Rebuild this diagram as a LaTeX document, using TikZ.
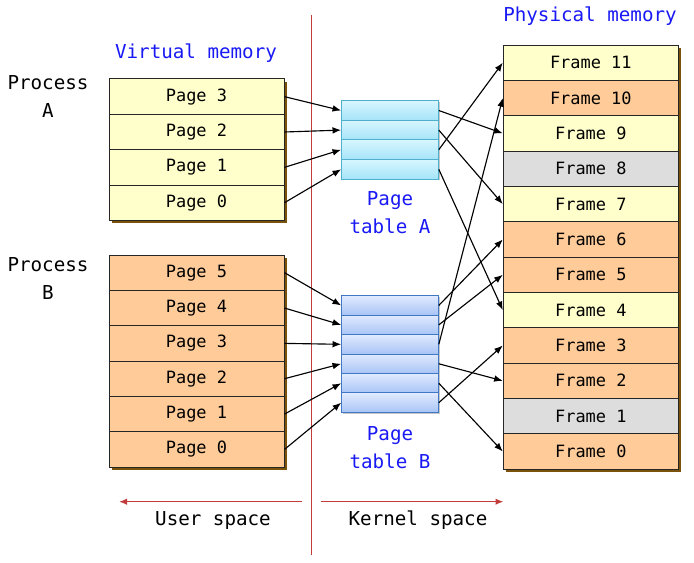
\documentclass[tikz,border=0pt]{standalone}
\usepackage{fontspec}
\setmonofont{DejaVu Sans Mono}
\usetikzlibrary{arrows.meta}

\definecolor{pageyellow}{RGB}{255,255,204}
\definecolor{pageorange}{RGB}{255,204,153}
\definecolor{pagegray}{RGB}{221,221,221}
\definecolor{shadowbrown}{RGB}{122,82,10}
\definecolor{labelblue}{RGB}{25,25,245}
\definecolor{spacered}{RGB}{195,60,60}
\definecolor{cyanedge}{RGB}{80,175,205}
\definecolor{cyantop}{RGB}{215,246,255}
\definecolor{cyanbot}{RGB}{165,228,248}
\definecolor{blueedge}{RGB}{65,120,195}
\definecolor{bluetop}{RGB}{225,234,255}
\definecolor{bluebot}{RGB}{168,196,245}

\tikzset{
  memrow/.style={draw=black!85, line width=0.75pt, minimum width=131.25pt,
    minimum height=26.5pt, inner sep=0pt, font=\ttfamily\fontsize{12.7}{15}\selectfont},
  tablerow/.style={line width=0.75pt, minimum width=72.45pt, minimum height=14.65pt, inner sep=0pt},
  tablea/.style={tablerow, draw=cyanedge, top color=cyantop, bottom color=cyanbot},
  tableb/.style={tablerow, draw=blueedge, top color=bluetop, bottom color=bluebot},
  title/.style={font=\ttfamily\fontsize{14.4}{21}\selectfont, align=center},
  map/.style={-{Latex[length=6.5pt,width=5pt]}, line width=0.85pt},
  spacearrow/.style={spacered, line width=1.2pt, -{Latex[length=6pt,width=5pt]}},
}

\begin{document}
\begin{tikzpicture}[x=0.75pt,y=-0.75pt]
				\useasboundingbox (0,0) rectangle (694,563);
				
				% linha entre espaco de usuario e kernel
				\draw[spacered, line width=1.1pt] (311.5,15) -- (311.5,555);
				
				% sombras
				\fill[shadowbrown] (112,82) rectangle (287,223.2);
				\fill[shadowbrown] (112,258) rectangle (287,470.1);
				\fill[shadowbrown] (506.3,48) rectangle (681.3,472);
				\fill[black!22] (343.2,102.2) rectangle (439.8,180.4);
				\fill[black!22] (343.2,297.2) rectangle (439.8,413.9);
				
				% processo A
				\node[memrow, fill=pageyellow] (pa3) at (196.5,96.65) {Page 3};
				\node[memrow, fill=pageyellow] (pa2) at (196.5,132) {Page 2};
				\node[memrow, fill=pageyellow] (pa1) at (196.5,167.35) {Page 1};
				\node[memrow, fill=pageyellow] (pa0) at (196.5,202.7) {Page 0};
				
				% processo B
				\node[memrow, fill=pageorange] (pb5) at (196.5,272.68) {Page 5};
				\node[memrow, fill=pageorange] (pb4) at (196.5,308.03) {Page 4};
				\node[memrow, fill=pageorange] (pb3) at (196.5,343.38) {Page 3};
				\node[memrow, fill=pageorange] (pb2) at (196.5,378.73) {Page 2};
				\node[memrow, fill=pageorange] (pb1) at (196.5,414.08) {Page 1};
				\node[memrow, fill=pageorange] (pb0) at (196.5,449.43) {Page 0};
				
				% tabelas de paginas
				\node[tablea] (ta0) at (390,110.5) {};
				\node[tablea] (ta1) at (390,130.1) {};
				\node[tablea] (ta2) at (390,149.7) {};
				\node[tablea] (ta3) at (390,169.3) {};
				
				\node[tableb] (tb0) at (390,305.43) {};
				\node[tableb] (tb1) at (390,324.88) {};
				\node[tableb] (tb2) at (390,344.33) {};
				\node[tableb] (tb3) at (390,363.78) {};
				\node[tableb] (tb4) at (390,383.23) {};
				\node[tableb] (tb5) at (390,402.68) {};
				
				% memoria fisica
				\node[memrow, fill=pageyellow] (f11) at (590.8,62.68) {Frame 11};
				\node[memrow, fill=pageorange] (f10) at (590.8,98.03) {Frame 10};
				\node[memrow, fill=pageyellow] (f9) at (590.8,133.38) {Frame 9};
				\node[memrow, fill=pagegray] (f8) at (590.8,168.73) {Frame 8};
				\node[memrow, fill=pageyellow] (f7) at (590.8,204.08) {Frame 7};
				\node[memrow, fill=pageorange] (f6) at (590.8,239.43) {Frame 6};
				\node[memrow, fill=pageorange] (f5) at (590.8,274.78) {Frame 5};
				\node[memrow, fill=pageyellow] (f4) at (590.8,310.13) {Frame 4};
				\node[memrow, fill=pageorange] (f3) at (590.8,345.48) {Frame 3};
				\node[memrow, fill=pageorange] (f2) at (590.8,380.83) {Frame 2};
				\node[memrow, fill=pagegray] (f1) at (590.8,416.18) {Frame 1};
				\node[memrow, fill=pageorange] (f0) at (590.8,451.53) {Frame 0};
				
				% rotulos
				\node[title] (procA) at (48,97) {Process\\A};
				\node[title] (procB) at (48,278.5) {Process\\B};
				\node[title, text=labelblue] (virt) at (196,53) {Virtual memory};
				\node[title, text=labelblue] (phys) at (590,16) {Physical memory};
				\node[title, text=labelblue] (tabA) at (390,213) {Page\\table A};
				\node[title, text=labelblue] (tabB) at (390,448) {Page\\table B};
				\node[title] (user) at (213,520) {User space};
				\node[title] (kern) at (418,520) {Kernel space};
				
				% paginas -> tabelas
				\draw[map] (pa3.east) -- (ta0.west);
				\draw[map] (pa2.east) -- (ta1.west);
				\draw[map] (pa1.east) -- (ta2.west);
				\draw[map] (pa0.east) -- (ta3.west);
				
				\draw[map] (pb5.east) -- (tb0.west);
				\draw[map] (pb4.east) -- (tb1.west);
				\draw[map] (pb3.east) -- (tb2.west);
				\draw[map] (pb2.east) -- (tb3.west);
				\draw[map] (pb1.east) -- (tb4.west);
				\draw[map] (pb0.east) -- (tb5.west);
				
				% tabelas -> quadros
				\draw[map] (ta0.east) -- (f9.west);
				\draw[map] (ta1.east) -- (f7.west);
				\draw[map] (ta2.east) -- (f11.west);
				\draw[map] (ta3.east) -- (f4.west);
				
				\draw[map] (tb0.east) -- (f6.west);
				\draw[map] (tb1.east) -- (f5.west);
				\draw[map] (tb2.east) -- (f10.west);
				\draw[map] (tb3.east) -- (f2.west);
				\draw[map] (tb4.east) -- (f0.west);
				\draw[map] (tb5.east) -- (f3.west);
				
				% espacos
				\coordinate (userfrom) at (302,501.7);
				\coordinate (userto) at (119,501.7);
				\coordinate (kernfrom) at (321,501.7);
				\coordinate (kernto) at (503.5,501.7);
				\draw[spacearrow] (userfrom) -- (userto);
				\draw[spacearrow] (kernfrom) -- (kernto);
				
			\end{tikzpicture}
\end{document}
